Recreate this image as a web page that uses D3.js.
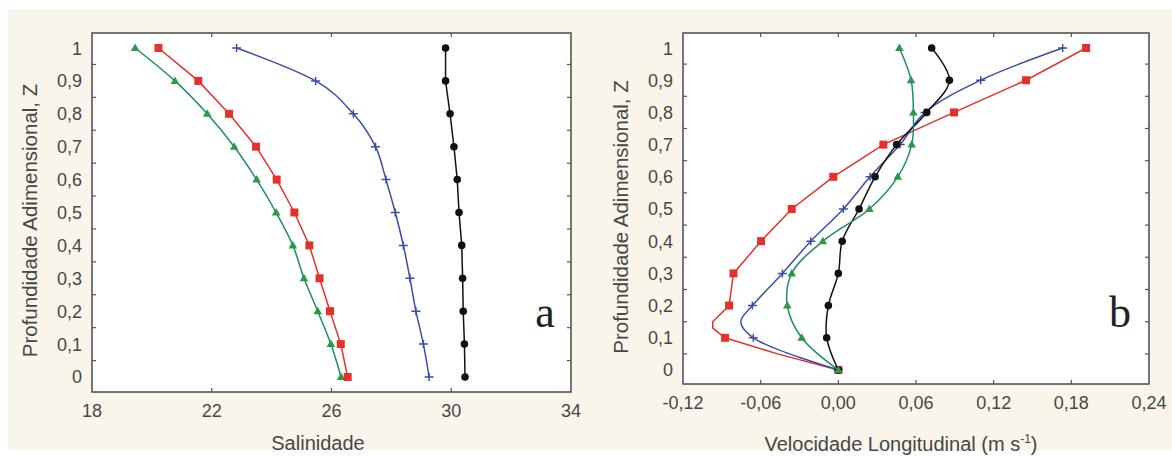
<!DOCTYPE html>
<html><head><meta charset="utf-8">
<script src="https://cdn.jsdelivr.net/npm/d3@7"></script>
<style>html,body{margin:0;padding:0;background:#fff;}svg{display:block;}</style>
</head><body>
<svg id="chart" width="1172" height="457"></svg>
<script>
// ---------- data ----------
const zLevels = [0,0.1,0.2,0.3,0.4,0.5,0.6,0.7,0.8,0.9,1];
const zTickLabels = ["0","0,1","0,2","0,3","0,4","0,5","0,6","0,7","0,8","0,9","1"];
const zMinorTicks = [0.05,0.15,0.25,0.35,0.45,0.55,0.65,0.75,0.85,0.95];

// Panel a: salinity
const salTicks = [18,22,26,30,34];
const salGreen = [26.32,25.98,25.54,25.08,24.71,24.15,23.50,22.75,21.85,20.77,19.44];
const salRed   = [26.54,26.31,25.95,25.60,25.26,24.76,24.17,23.48,22.58,21.55,20.22];
const salBlue  = [29.26,29.07,28.82,28.62,28.40,28.13,27.82,27.47,26.73,25.47,22.83];
const salBlack = [30.46,30.44,30.40,30.38,30.35,30.26,30.20,30.09,29.96,29.81,29.81];

// Panel b: longitudinal velocity
const velTicks = [-0.12,-0.06,0,0.06,0.12,0.18,0.24];
const velTickLabels = ["-0,12","-0,06","0,00","0,06","0,12","0,18","0,24"];
const velRed   = [0,-0.0875,-0.0844,-0.081,-0.0597,-0.036,-0.0039,0.0348,0.0894,0.145,0.1914];
const velBlue  = [0,-0.0657,-0.0664,-0.0432,-0.0213,0.0039,0.0245,0.0477,0.067,0.110,0.1733];
const velGreen = [0,-0.0283,-0.0394,-0.036,-0.012,0.024,0.0459,0.0567,0.058,0.0562,0.0472];
const velBlack = [0,-0.009,-0.0077,0.0,0.003,0.016,0.0284,0.045,0.0683,0.0858,0.0721];
// unmarked line vertices
const velRedKinkZ = [0.05,0.13,0.15];
const velRedKinkV = [-0.047,-0.097,-0.097];
const velBlueKinkZ = [0.15];
const velBlueKinkV = [-0.0754];

const colors = {red:"#e5312b", green:"#1e8c72", greenMark:"#2a9a48", blue:"#3a4ea8", black:"#111"};

// ---------- drawing ----------
const svg = d3.select("#chart");
svg.append("rect").attr("x",8).attr("y",9).attr("width",1164).attr("height",441).attr("fill","#f9f5eb");

function combine(zs, vs, kz, kv){
  const pts = zs.map((z,i)=>({z, v:vs[i], m:true}));
  if(kz) kz.forEach((z,i)=>pts.push({z, v:kv[i], m:false}));
  return pts.sort((a,b)=>a.z-b.z);
}

function drawMarker(g, type, x, y, col){
  if(type==="square"){
    g.append("rect").attr("x",x-4).attr("y",y-4).attr("width",8).attr("height",8).attr("fill",col);
  } else if(type==="tri"){
    g.append("path").attr("d",`M${x},${y-4.5}L${x+4.3},${y+3}L${x-4.3},${y+3}Z`).attr("fill",col);
  } else if(type==="circle"){
    g.append("circle").attr("cx",x).attr("cy",y).attr("r",3.8).attr("fill",col);
  } else if(type==="plus"){
    g.append("path").attr("d",`M${x-4.5},${y}H${x+4.5}M${x},${y-4}V${y+4}`).attr("stroke",col).attr("stroke-width",1.5);
  }
}

function panel(opt){
  const {x0,x1,y0,y1,xDomain,yDomain,xTicks,xTickLabels,series,xTitle,letter,letterX} = opt;
  const x = d3.scaleLinear().domain(xDomain).range([x0,x1]);
  const y = d3.scaleLinear().domain(yDomain).range([y1,y0]);
  const g = svg.append("g");
  g.append("rect").attr("x",x0).attr("y",y0).attr("width",x1-x0).attr("height",y1-y0).attr("fill","#fff");

  // series
  series.forEach(s=>{
    const pts = s.pts;
    const line = d3.line().x(d=>x(d.v)).y(d=>y(d.z)).curve(s.curve);
    g.append("path").attr("d",line(pts)).attr("fill","none").attr("stroke",s.color).attr("stroke-width",1.5);
    pts.filter(d=>d.m).forEach(d=>drawMarker(g,s.marker,x(d.v),y(d.z),s.markColor||s.color));
  });

  // frame
  g.append("rect").attr("x",x0).attr("y",y0).attr("width",x1-x0).attr("height",y1-y0)
    .attr("fill","none").attr("stroke","#555").attr("stroke-width",1.6);

  // inward ticks
  const inner = xTicks.slice(1,-1);
  inner.forEach(t=>{
    g.append("line").attr("x1",x(t)).attr("x2",x(t)).attr("y1",y1).attr("y2",y1-4).attr("stroke","#555").attr("stroke-width",1.2);
    g.append("line").attr("x1",x(t)).attr("x2",x(t)).attr("y1",y0).attr("y2",y0+4).attr("stroke","#555").attr("stroke-width",1.2);
  });
  zMinorTicks.forEach(t=>{
    g.append("line").attr("x1",x0).attr("x2",x0+4).attr("y1",y(t)).attr("y2",y(t)).attr("stroke","#555").attr("stroke-width",1.2);
    g.append("line").attr("x1",x1).attr("x2",x1-4).attr("y1",y(t)).attr("y2",y(t)).attr("stroke","#555").attr("stroke-width",1.2);
  });

  // x tick labels
  xTicks.forEach((t,i)=>{
    g.append("text").attr("x",x(t)).attr("y",y1+25).attr("text-anchor","middle")
      .attr("font-family","Liberation Sans, Arial, sans-serif").attr("font-size",18).attr("fill","#474747")
      .text(xTickLabels[i]);
  });
  // y tick labels
  zLevels.forEach((t,i)=>{
    g.append("text").attr("x",x0-10).attr("y",y(t)+6.5).attr("text-anchor","end")
      .attr("font-family","Liberation Sans, Arial, sans-serif").attr("font-size",18).attr("fill","#474747")
      .text(zTickLabels[i]);
  });
  // y title
  const yc = (y(0)+y(1))/2 + 8;
  g.append("text").attr("transform",`translate(${x0-55},${yc}) rotate(-90)`).attr("text-anchor","middle")
    .attr("font-family","Liberation Sans, Arial, sans-serif").attr("font-size",20.5).attr("fill","#474747")
    .text("Profundidade Adimensional, Z");
  // x title
  const xt = g.append("text").attr("x",opt.xTitleX).attr("y",opt.xTitleY).attr("text-anchor","middle")
    .attr("font-family","Liberation Sans, Arial, sans-serif").attr("font-size",20).attr("fill","#474747");
  xTitle(xt);
  // panel letter
  g.append("text").attr("x",letterX).attr("y",327).attr("text-anchor","middle")
    .attr("font-family","Liberation Serif, Times New Roman, serif").attr("font-size",44).attr("fill","#222")
    .text(letter);
}

panel({
  x0:92, x1:571, y0:33, y1:392,
  xDomain:[18,34], yDomain:[-0.0456,1.0456],
  xTicks:salTicks, xTickLabels:salTicks.map(String),
  series:[
    {pts:combine(zLevels,salGreen), color:colors.green, markColor:colors.greenMark, marker:"tri", curve:d3.curveMonotoneY},
    {pts:combine(zLevels,salRed), color:colors.red, marker:"square", curve:d3.curveLinear},
    {pts:combine(zLevels,salBlue), color:colors.blue, marker:"plus", curve:d3.curveMonotoneY},
    {pts:combine(zLevels,salBlack), color:colors.black, marker:"circle", curve:d3.curveLinear}
  ],
  xTitleX:318, xTitleY:450,
  xTitle:t=>t.text("Salinidade"),
  letter:"a", letterX:545
});

panel({
  x0:683, x1:1149, y0:33, y1:384,
  xDomain:[-0.12,0.24], yDomain:[-0.0435,1.0466],
  xTicks:velTicks, xTickLabels:velTickLabels,
  series:[
    {pts:combine(zLevels,velRed,velRedKinkZ,velRedKinkV), color:colors.red, marker:"square", curve:d3.curveLinear},
    {pts:combine(zLevels,velBlue,velBlueKinkZ,velBlueKinkV), color:colors.blue, marker:"plus", curve:d3.curveCatmullRom},
    {pts:combine(zLevels,velBlack), color:colors.black, marker:"circle", curve:d3.curveCatmullRom},
    {pts:combine(zLevels,velGreen), color:colors.green, markColor:colors.greenMark, marker:"tri", curve:d3.curveCatmullRom}
  ],
  xTitleX:901, xTitleY:451,
  xTitle:t=>{
    t.append("tspan").text("Velocidade Longitudinal (m s");
    t.append("tspan").attr("dy",-8).attr("font-size",12).text("-1");
    t.append("tspan").attr("dy",8).text(")");
  },
  letter:"b", letterX:1120
});
</script>
</body></html>
